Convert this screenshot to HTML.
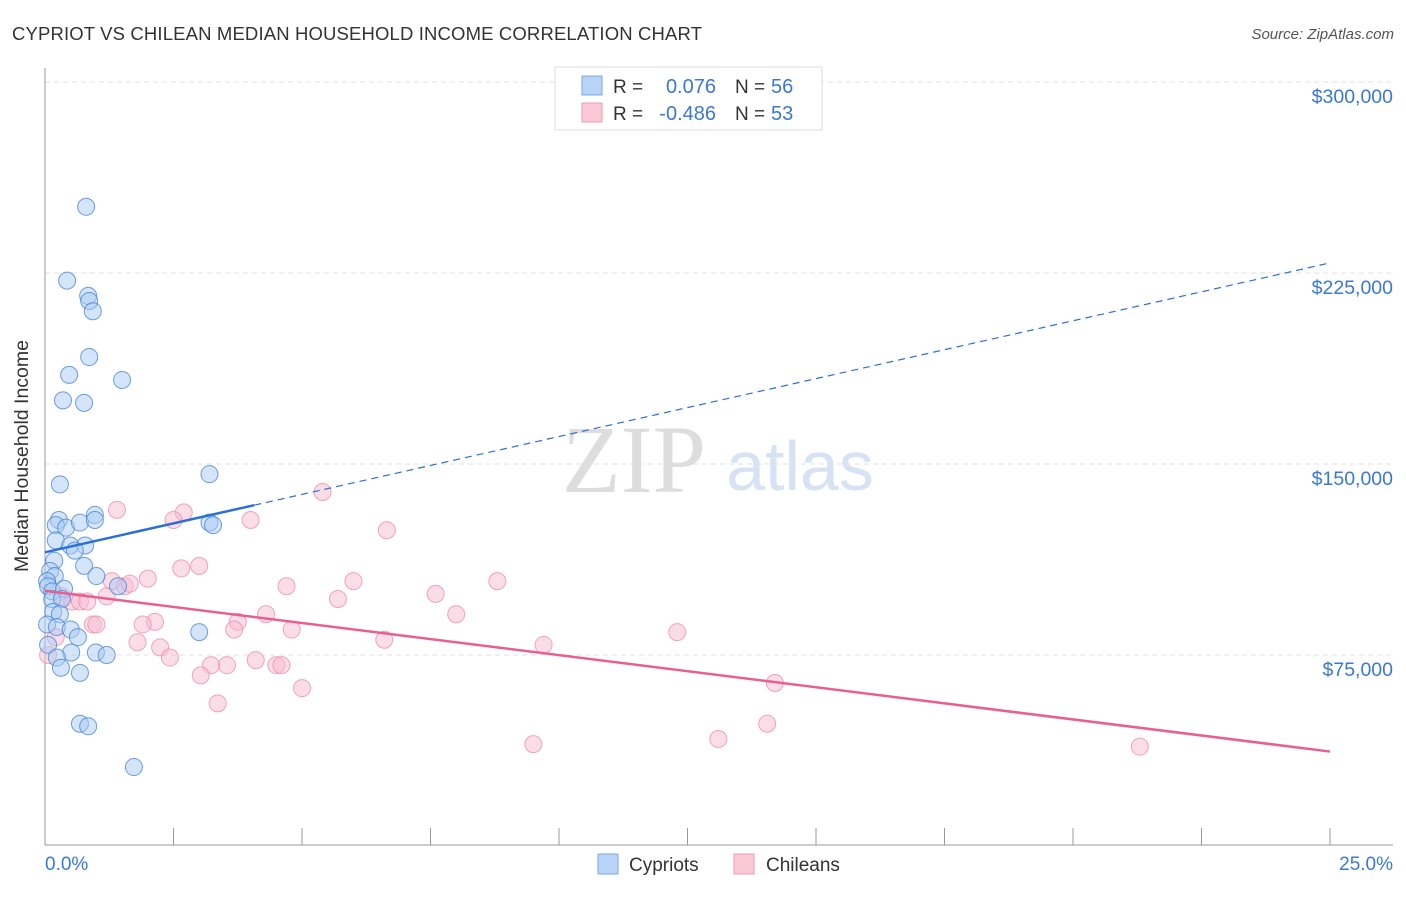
<!DOCTYPE html>
<html><head><meta charset="utf-8"><style>
body{margin:0;background:#fff;font-family:"Liberation Sans",sans-serif}
svg text{font-family:"Liberation Sans",sans-serif}
</style></head><body>
<svg id="c" width="1406" height="892" xmlns="http://www.w3.org/2000/svg">
<text x="12" y="40" font-size="18.5" fill="#333" textLength="690">CYPRIOT VS CHILEAN MEDIAN HOUSEHOLD INCOME CORRELATION CHART</text>
<text x="1394" y="39" font-size="15" fill="#555" text-anchor="end" font-style="italic">Source: ZipAtlas.com</text>
<text x="634" y="492" font-size="96" fill="#ddd" text-anchor="middle" style="font-family:'Liberation Serif',serif">ZIP</text>
<text x="800" y="490" font-size="70" fill="#d5e3f5" text-anchor="middle">atlas</text>
<g id="grid"></g><g id="axes"></g><g id="pts"></g><g id="lines"></g>
<text x="28" y="456" font-size="19.5" fill="#333" text-anchor="middle" transform="rotate(-90 28 456)">Median Household Income</text>
<g>
<rect x="555" y="67" width="267" height="63" fill="#fff" stroke="#ddd"/>
<rect x="582" y="76" width="20" height="19" fill="#b8d4f5" stroke="#7aa8e8"/>
<rect x="582" y="103" width="20" height="19" fill="#f9c9d8" stroke="#ee9ab5"/>
<text x="613" y="93" font-size="19" fill="#333">R =</text>
<text x="716" y="93" font-size="20" fill="#3a78d4" text-anchor="end">0.076</text>
<text x="735" y="93" font-size="19" fill="#333">N =</text>
<text x="771" y="93" font-size="20" fill="#3a78d4">56</text>
<text x="613" y="120" font-size="19" fill="#333">R =</text>
<text x="716" y="120" font-size="20" fill="#3a78d4" text-anchor="end">-0.486</text>
<text x="735" y="120" font-size="19" fill="#333">N =</text>
<text x="771" y="120" font-size="20" fill="#3a78d4">53</text>
</g>
<g>
<rect x="598" y="854" width="20" height="20" fill="#b8d4f5" stroke="#7aa8e8"/>
<text x="629" y="871" font-size="19" fill="#333">Cypriots</text>
<rect x="734" y="854" width="20" height="20" fill="#f9c9d8" stroke="#ee9ab5"/>
<text x="766" y="871" font-size="19" fill="#333">Chileans</text>
</g>
</svg>
<script>
const yTicks=[75000,150000,225000,300000];
const yTickLabels=["$75,000","$150,000","$225,000","$300,000"];
const xTickLabels=["0.0%","25.0%"];
const cypX=[0.8,0.43,0.84,0.86,0.93,0.86,0.47,1.5,0.35,0.76,3.2,0.29,0.27,0.21,0.41,0.68,0.97,0.97,3.2,3.27,0.21,0.49,0.78,0.58,0.18,0.1,0.19,0.76,1.0,0.04,0.06,0.14,0.37,1.42,0.14,0.33,0.16,0.29,0.04,0.23,0.5,0.64,3.0,0.06,0.51,0.99,1.2,0.23,0.31,0.68,0.68,0.84,1.73];
const cypY=[251,222,216,214,210,192,185,183,175,174,146,142,128,126,125,127,130,128,127,126,120,118,118,116,112,108,106,110,106,104,102,100,101,102,97,97,92,91,87,86,85,82,84,79,76,76,75,74,70,68,48,47,31];
const chiX=[5.4,1.4,2.7,2.5,4.0,6.65,3.0,2.65,2.0,8.8,6.0,1.3,1.55,1.65,4.7,7.6,1.2,5.7,0.33,0.53,0.68,0.82,8.0,4.3,2.14,3.75,0.93,1.0,1.9,3.68,4.8,0.21,12.3,1.8,6.6,9.7,2.24,2.43,4.1,3.23,3.54,4.5,4.6,3.03,5.0,14.2,3.36,14.05,13.1,9.5,21.3,0.06];
const chiY=[139,132,131,128,128,124,110,109,105,104,104,104,102,103,102,99,98,97,98,96,96,96,91,91,88,88,87,87,87,85,85,82,84,80,81,79,78,74,73,71,71,71,71,67,62,64,56,48,42,40,39,75];
const NS="http://www.w3.org/2000/svg";
const X=p=>45+p*(1285/25);
const Y=k=>655-(k*1000-75000)*191/75000;
function mk(t,a,parent){const e=document.createElementNS(NS,t);for(const k in a)e.setAttribute(k,a[k]);document.getElementById(parent).appendChild(e);return e;}
yTicks.forEach((v,i)=>{
 const l=mk('line',{x1:45,x2:1393,y1:Y(v/1000),y2:Y(v/1000),stroke:'#e2e2e2','stroke-dasharray':'5,4'},'grid');
 
 
 const t=mk('text',{x:1393,y:Y(v/1000)+21,'font-size':19.5,fill:'#3a78d4','text-anchor':'end'},'grid');
 t.textContent=yTickLabels[i];
 
 
});
let a=mk('line',{x1:45,x2:45,y1:68,y2:845,stroke:'#999'},'axes');


a=mk('line',{x1:45,x2:1393,y1:845,y2:845,stroke:'#999'},'axes');


for(let i=0;i<=10;i++){const t=mk('line',{x1:X(i*2.5),x2:X(i*2.5),y1:828,y2:845,stroke:'#999'},'axes');
 
 }
let xl=mk('text',{x:45,y:870,'font-size':19,fill:'#3a78d4'},'axes');xl.textContent=xTickLabels[0];


xl=mk('text',{x:1393,y:870,'font-size':19,fill:'#3a78d4','text-anchor':'end'},'axes');xl.textContent=xTickLabels[1];


function pts(xs,ys,fill,stroke,name){xs.forEach((x,i)=>{const c=mk('circle',{cx:X(x),cy:Y(ys[i]),r:8.5,fill:fill,'fill-opacity':0.5,stroke:stroke,'stroke-opacity':0.8},'pts');
 
 });}
pts(chiX,chiY,'#f7bcd0','#ee8fae','chilean-point');
pts(cypX,cypY,'#a9cbf3','#4a86d8','cypriot-point');
function fit(xs,ys){const n=xs.length;let mx=0,my=0;xs.forEach((x,i)=>{mx+=x;my+=ys[i]});mx/=n;my/=n;let sxy=0,sxx=0;xs.forEach((x,i)=>{sxy+=(x-mx)*(ys[i]-my);sxx+=(x-mx)**2});const b=sxy/sxx;return [my-b*mx,b];}
let [a1,b1]=fit(cypX,cypY);const mxc=Math.max(...cypX)+0.8;
let l=mk('line',{x1:X(0),y1:Y(a1),x2:X(mxc),y2:Y(a1+b1*mxc),stroke:'#2b70d6','stroke-width':2.5},'lines');


l=mk('line',{x1:X(mxc),y1:Y(a1+b1*mxc),x2:X(25),y2:Y(a1+b1*25),stroke:'#2b70d6','stroke-width':1.2,'stroke-dasharray':'7,5'},'lines');


let [a2,b2]=fit(chiX,chiY);
l=mk('line',{x1:X(0),y1:Y(a2),x2:X(25),y2:Y(a2+b2*25),stroke:'#e8608d','stroke-width':2.5},'lines');


</script>
</body></html>
